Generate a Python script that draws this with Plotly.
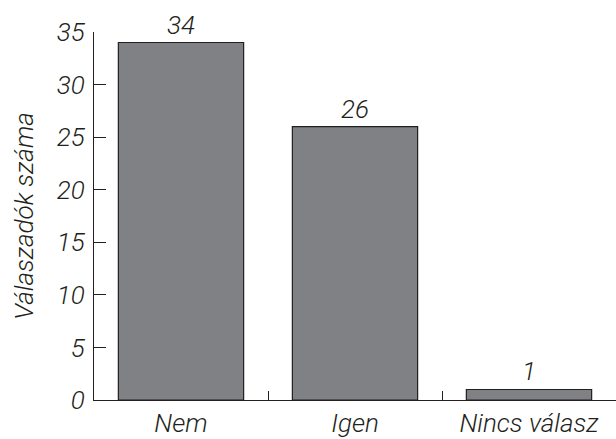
import plotly.graph_objects as go

categories = ["Nem", "Igen", "Nincs válasz"]
counts = [34, 26, 1]
y_ticks = [0, 5, 10, 15, 20, 25, 30, 35]

ink = "#231f20"
font_family = "Roboto, Liberation Sans, Arial, sans-serif"
fs = 26

fig = go.Figure(
    go.Bar(
        x=categories,
        y=counts,
        width=0.72,
        marker=dict(color="#808185", line=dict(color=ink, width=1.2)),
        text=[str(v) for v in counts],
        textposition="outside",
        textfont=dict(family=font_family, size=fs, color=ink, style="italic", weight=300),
        cliponaxis=False,
    )
)

fig.update_layout(
    width=616,
    height=439,
    margin=dict(l=94, r=0, t=32, b=39),
    paper_bgcolor="white",
    plot_bgcolor="white",
    showlegend=False,
    font=dict(family=font_family, size=fs, color=ink, style="italic", weight=300),
)

fig.update_xaxes(
    range=[-0.5, 2.5],
    showline=True,
    linecolor=ink,
    linewidth=1.2,
    ticks="inside",
    tickson="boundaries",
    ticklen=9,
    tickcolor=ink,
    tickwidth=1.2,
    showgrid=False,
    tickfont=dict(size=fs, style="italic", weight=300),
)

fig.update_yaxes(
    range=[0, 35],
    tickvals=y_ticks,
    showline=True,
    linecolor=ink,
    linewidth=1.2,
    ticks="inside",
    ticklen=12,
    tickcolor=ink,
    tickwidth=1.2,
    showgrid=False,
    zeroline=False,
    ticklabelstandoff=3,
    tickfont=dict(size=fs, style="italic", weight=300),
    title=dict(text="Válaszadók száma", font=dict(size=fs, style="italic", weight=300), standoff=15),
)

fig.write_html("out.html")
